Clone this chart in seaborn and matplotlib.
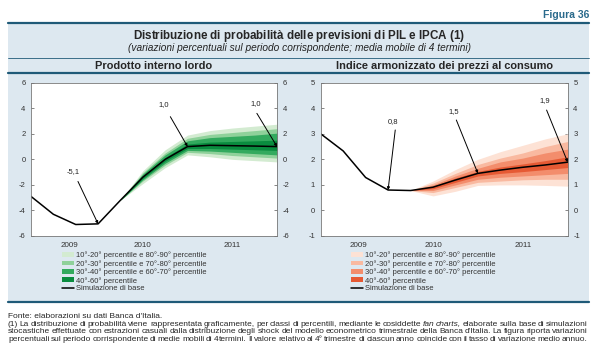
import numpy as np
import pandas as pd
import seaborn as sns
import matplotlib.pyplot as plt
from matplotlib.patches import Rectangle, Patch
from matplotlib.lines import Line2D

# quarters: 0 = 2009Q1 ... 11 = 2011Q4
quarters = list(range(12))
fan_q = list(range(4, 12))
year_labels = ["2009", "2010", "2011"]
year_pos = [1.7, 5, 9]
year_end_q = [3, 7, 11]

# PIL (GDP)
pil_base = [-2.9, -4.3, -5.1, -5.05, -3.2, -1.4, 0.0, 1.0, 1.1, 1.07, 1.04, 1.0]
pil_p90 = [-3.2, -0.9, 0.75, 1.9, 2.25, 2.45, 2.6, 2.75]
pil_p80 = [-3.2, -1.05, 0.5, 1.65, 1.95, 2.1, 2.25, 2.4]
pil_p70 = [-3.2, -1.15, 0.35, 1.45, 1.7, 1.8, 1.9, 2.05]
pil_p60 = [-3.2, -1.3, 0.15, 1.2, 1.35, 1.4, 1.45, 1.5]
pil_p40 = [-3.2, -1.5, -0.15, 0.85, 0.85, 0.8, 0.75, 0.7]
pil_p30 = [-3.2, -1.6, -0.3, 0.7, 0.65, 0.55, 0.45, 0.35]
pil_p20 = [-3.2, -1.7, -0.45, 0.55, 0.45, 0.3, 0.2, 0.1]
pil_p10 = [-3.2, -1.9, -0.65, 0.35, 0.2, 0.0, -0.1, -0.2]
pil_yticks = [-6, -4, -2, 0, 2, 4, 6]

# IPCA (HICP)
ipca_base = [3.0, 2.33, 1.29, 0.8, 0.78, 0.91, 1.19, 1.45, 1.58, 1.69, 1.78, 1.89]
ipca_p90 = [0.78, 1.15, 1.6, 2.0, 2.3, 2.55, 2.8, 3.0]
ipca_p80 = [0.78, 1.07, 1.45, 1.8, 2.05, 2.25, 2.5, 2.7]
ipca_p70 = [0.78, 1.0, 1.35, 1.65, 1.9, 2.05, 2.25, 2.4]
ipca_p60 = [0.78, 0.95, 1.27, 1.53, 1.7, 1.82, 1.95, 2.1]
ipca_p40 = [0.78, 0.85, 1.1, 1.35, 1.45, 1.52, 1.6, 1.68]
ipca_p30 = [0.78, 0.78, 1.0, 1.22, 1.3, 1.35, 1.4, 1.45]
ipca_p20 = [0.78, 0.7, 0.9, 1.1, 1.15, 1.2, 1.22, 1.22]
ipca_p10 = [0.78, 0.57, 0.75, 0.98, 1.0, 1.0, 0.98, 0.95]
ipca_yticks = [-1, 0, 1, 2, 3, 4, 5]

# annotations: (label, point quarter, point value, text x, text y, line start x, line start y)
pil_notes = [("-5,1", 3, -5.05, 1.87, -0.96, 2.1, -1.73),
             ("1,0", 7, 1.0, 5.93, 4.26, 6.23, 3.34),
             ("1,0", 11, 1.0, 10.04, 4.39, 10.1, 3.6)]
ipca_notes = [("0,8", 3, 0.8, 3.24, 3.48, 3.32, 3.15),
              ("1,5", 7, 1.45, 5.92, 3.87, 6.04, 3.54),
              ("1,9", 11, 1.89, 9.98, 4.32, 10.06, 3.93)]

green = ["#d3ebd1", "#8fd19a", "#33aa5e", "#0a8c3f"]
orange = ["#fde2d5", "#f9b9a0", "#f38d6c", "#e65a34"]

legend_labels = ["10°-20° percentile e 80°-90° percentile",
                 "20°-30° percentile e 70°-80° percentile",
                 "30°-40° percentile e 60°-70° percentile",
                 "40°-60° percentile",
                 "Simulazione di base"]

sns.set_style("white")
plt.rcParams['font.family'] = ['Liberation Sans', 'DejaVu Sans']
plt.rcParams['axes.unicode_minus'] = False

W, H = 600, 357
fig = plt.figure(figsize=(6, 3.57), dpi=100)
fig.patch.set_facecolor("white")


def fx(px):
    return px / W


def fy(py):
    return 1 - py / H


blue_bg = "#dde8f0"
rule = "#1f5a78"
fig.patches.append(Rectangle((fx(8), fy(301.7)), fx(589) - fx(8), fy(22.7) - fy(301.7),
                             transform=fig.transFigure, facecolor=blue_bg, edgecolor="none", zorder=-2))
for py, lw in [(22.7, 1.6), (58, 0.6), (73, 1.6), (301.7, 1.6)]:
    fig.lines.append(Line2D([fx(8), fx(589)], [fy(py), fy(py)], transform=fig.transFigure,
                            color=rule, lw=lw, zorder=-1))

fig.text(fx(589), fy(15), "Figura 36", ha="right", va="center", fontsize=7.5,
         color="#2a6a8c", fontweight="bold")
fig.text(fx(299), fy(36), "Distribuzione di probabilità delle previsioni di PIL e IPCA $\\mathregular{(1)}$",
         ha="center", va="center", fontsize=8.4, fontweight="bold")
fig.text(fx(299), fy(48), "(variazioni percentuali sul periodo corrispondente; media mobile di 4 termini)",
         ha="center", va="center", fontsize=7.3, style="italic", color="#222222")


def draw_panel(rect, base, bands, colors, ylim, yticks, notes, title_txt, title_x):
    ax = fig.add_axes(rect)
    ax.set_facecolor("white")
    p10, p20, p30, p40, p60, p70, p80, p90 = bands
    ax.fill_between(fan_q, p10, p90, color=colors[0], lw=0)
    ax.fill_between(fan_q, p20, p80, color=colors[1], lw=0)
    ax.fill_between(fan_q, p30, p70, color=colors[2], lw=0)
    ax.fill_between(fan_q, p40, p60, color=colors[3], lw=0)
    df = pd.DataFrame({"q": quarters, "v": base})
    sns.lineplot(data=df, x="q", y="v", ax=ax, color="black", lw=1.1)
    for lab, qx, qv, tx, ty, lx, ly in notes:
        ax.annotate("", xy=(qx, qv), xytext=(lx, ly),
                    arrowprops=dict(arrowstyle="-|>", color="black", lw=0.7,
                                    mutation_scale=4, shrinkA=0, shrinkB=0))
        ax.text(tx, ty, lab, ha="center", va="center", fontsize=5.5, color="#222222")
    ax.set_xlim(0, 11)
    ax.set_ylim(*ylim)
    ax.set_yticks(yticks)
    ax.set_xticks(year_end_q)
    ax.set_xticklabels([])
    ax.set_xticks(year_pos, minor=True)
    ax.set_xticklabels(year_labels, minor=True)
    ax.tick_params(axis="x", which="minor", length=0, pad=4.5, labelsize=5.8, labelcolor="#333333")
    ax.tick_params(axis="x", which="major", direction="in", length=3, width=0.5, color="#555555")
    ax.tick_params(axis="y", direction="in", length=2.5, width=0.5, color="#555555",
                   left=True, right=True, labelleft=True, labelright=True,
                   labelsize=5.5, labelcolor="#333333", pad=4)
    ax.set_xlabel("")
    ax.set_ylabel("")
    for s in ax.spines.values():
        s.set_color("#777777")
        s.set_linewidth(0.6)
    fig.text(fx(title_x), fy(66), title_txt, ha="center", va="center", fontsize=7.9, fontweight="bold")
    return ax


ax1 = draw_panel([fx(31), fy(236), fx(277) - fx(31), fy(82.7) - fy(236)], pil_base,
                 [pil_p10, pil_p20, pil_p30, pil_p40, pil_p60, pil_p70, pil_p80, pil_p90],
                 green, (-6, 6), pil_yticks, pil_notes, "Prodotto interno lordo", 154)
ax2 = draw_panel([fx(320.7), fy(236), fx(567.7) - fx(320.7), fy(82.7) - fy(236)], ipca_base,
                 [ipca_p10, ipca_p20, ipca_p30, ipca_p40, ipca_p60, ipca_p70, ipca_p80, ipca_p90],
                 orange, (-1, 5), ipca_yticks, ipca_notes, "Indice armonizzato dei prezzi al consumo", 444)

for colors, lx in [(green, 62), (orange, 351)]:
    handles = [Patch(facecolor=c, edgecolor="none") for c in colors]
    handles.append(Line2D([0], [0], color="black", lw=1.1))
    fig.legend(handles, legend_labels, loc="upper left", bbox_to_anchor=(fx(lx), fy(251.5)),
               fontsize=5.5, frameon=False, handlelength=1.6, handleheight=0.6,
               handletextpad=0.2, labelspacing=0.1, borderpad=0, borderaxespad=0,
               labelcolor="#333333")

# footer notes
fsize = 6.0
fig.text(fx(8), fy(318), "Fonte: elaborazioni su dati Banca d'Italia.", ha="left", va="baseline", fontsize=fsize)

footer_lines = [
    [("(1) La distribuzione di probabilità viene rappresentata graficamente, per classi di percentili, mediante le cosiddette", "normal"),
     ("fan charts,", "italic"),
     ("elaborate sulla base di simulazioni", "normal")],
    [("stocastiche effettuate con estrazioni casuali dalla distribuzione degli shock del modello econometrico trimestrale della Banca d'Italia. La figura riporta variazioni", "normal")],
    [("percentuali sul periodo corrispondente di medie mobili di 4 termini. Il valore relativo al 4° trimestre di ciascun anno coincide con il tasso di variazione medio annuo.", "normal")],
]
footer_y = [325.5, 333, 340.7]
renderer = fig.canvas.get_renderer()
x0, x1 = 8, 588
for parts, py in zip(footer_lines, footer_y):
    words = []
    for txt, st in parts:
        for w in txt.split(" "):
            words.append((w, st))
    items = []
    total = 0
    for w, st in words:
        t = fig.text(0, fy(py), w, ha="left", va="baseline", fontsize=fsize, style=st)
        wd = t.get_window_extent(renderer).width
        items.append((t, wd))
        total += wd
    gap = (x1 - x0 - total) / (len(items) - 1)
    cur = x0
    for t, wd in items:
        t.set_x(fx(cur))
        cur += wd + gap

fig.savefig("out.png", dpi=100)
